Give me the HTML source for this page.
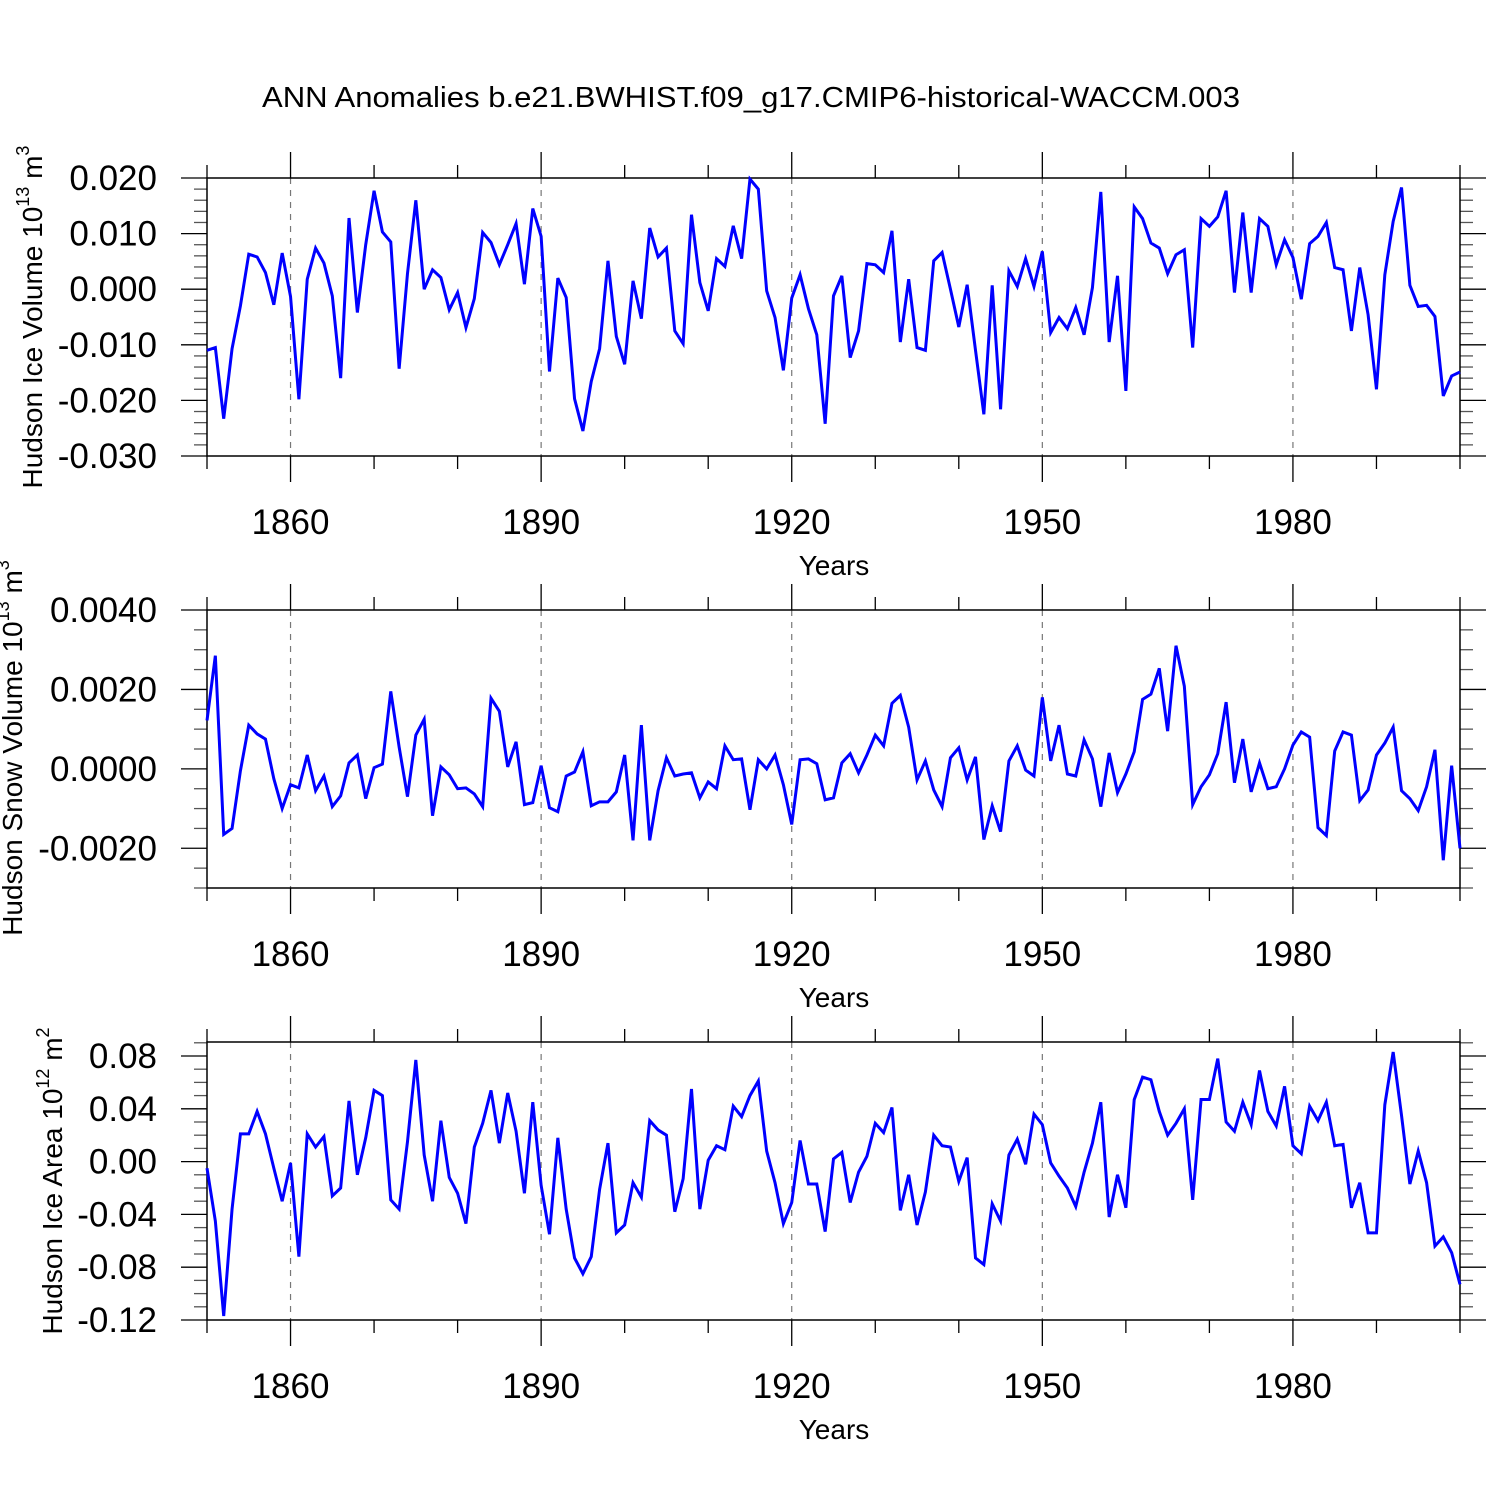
<!DOCTYPE html>
<html><head><meta charset="utf-8">
<style>
html,body{margin:0;padding:0;background:#fff;}
svg{display:block;font-family:"Liberation Sans",sans-serif;}
</style></head>
<body>
<svg id="chart" width="1500" height="1500" viewBox="0 0 1500 1500" xmlns="http://www.w3.org/2000/svg">
<rect width="1500" height="1500" fill="#fff"/>
<text x="751" y="107" font-size="29" text-anchor="middle" textLength="978" lengthAdjust="spacingAndGlyphs">ANN Anomalies b.e21.BWHIST.f09_g17.CMIP6-historical-WACCM.003</text>
</svg>
<script>
const years = [];
for (let y = 1850; y <= 2000; y++) years.push(y);
const xTickLabels = ["1860","1890","1920","1950","1980"];
const xTickYears = [1860,1890,1920,1950,1980];

const iceVolume = [-0.011,-0.0105,-0.0233,-0.0107,-0.003,0.0063,0.0058,0.003,-0.0028,0.0065,
-0.0013,-0.0198,0.0018,0.0074,0.0047,-0.0012,-0.016,0.0128,-0.0042,0.008,
0.0177,0.0103,0.0085,-0.0143,0.0028,0.016,0.0,0.0035,0.0021,-0.0037,
-0.0006,-0.0069,-0.0017,0.0102,0.0084,0.0044,0.008,0.0118,0.0009,0.0145,
0.0095,-0.0148,0.002,-0.0015,-0.0197,-0.0255,-0.0166,-0.0107,0.0051,-0.0085,
-0.0135,0.0015,-0.0053,0.011,0.0058,0.0074,-0.0075,-0.0098,0.0134,0.0012,
-0.0039,0.0055,0.0041,0.0114,0.0055,0.0198,0.018,-0.0003,-0.0051,-0.0146,
-0.0016,0.0026,-0.0035,-0.0082,-0.0242,-0.0012,0.0024,-0.0123,-0.0075,0.0046,
0.0044,0.003,0.0105,-0.0095,0.0018,-0.0105,-0.011,0.0051,0.0066,0.0,
-0.0068,0.0008,-0.011,-0.0225,0.0007,-0.0216,0.0033,0.0005,0.0055,0.0005,
0.0068,-0.0078,-0.0051,-0.0071,-0.0033,-0.0082,0.0003,0.0175,-0.0095,0.0024,
-0.0183,0.0148,0.0127,0.0083,0.0074,0.0028,0.0062,0.0071,-0.0105,0.0127,
0.0113,0.013,0.0177,-0.0006,0.0138,-0.0006,0.0127,0.0113,0.0044,0.0089,
0.0057,-0.0018,0.0082,0.0095,0.012,0.0039,0.0035,-0.0075,0.0039,-0.0046,
-0.018,0.0026,0.0122,0.0183,0.0007,-0.0031,-0.0029,-0.0049,-0.0192,-0.0156,-0.0149];

const snowVolume = [0.00122,0.00285,-0.00165,-0.0015,-0.00005,0.0011,0.00088,0.00075,-0.00025,-0.001,
-0.0004,-0.00048,0.00035,-0.00055,-0.00018,-0.00095,-0.00068,0.00015,0.00035,-0.00075,
0.00003,0.00012,0.00195,0.00055,-0.0007,0.00085,0.00125,-0.00118,0.00005,-0.00015,
-0.0005,-0.00048,-0.00063,-0.00095,0.00178,0.00145,0.00005,0.00068,-0.0009,-0.00085,
0.00008,-0.00098,-0.00108,-0.00018,-0.00008,0.00043,-0.00093,-0.00083,-0.00083,-0.00058,
0.00035,-0.0018,0.0011,-0.0018,-0.00055,0.00028,-0.00018,-0.00013,-0.0001,-0.00073,
-0.00033,-0.0005,0.00058,0.00023,0.00025,-0.00103,0.00023,0.0,0.00035,-0.0004,
-0.0014,0.00023,0.00025,0.00013,-0.00078,-0.00073,0.00015,0.00038,-0.0001,0.00035,
0.00085,0.00058,0.00165,0.00185,0.00105,-0.00028,0.0002,-0.00053,-0.00095,0.00028,
0.00053,-0.00028,0.0003,-0.00178,-0.00093,-0.00158,0.0002,0.00058,-0.00003,-0.00018,
0.0018,0.0002,0.0011,-0.00013,-0.00018,0.00073,0.00025,-0.00095,0.0004,-0.0006,
-0.00013,0.00043,0.00175,0.00188,0.00253,0.00095,0.0031,0.00208,-0.0009,-0.00045,
-0.00015,0.00038,0.00168,-0.00035,0.00075,-0.00058,0.00015,-0.0005,-0.00045,0.0,
0.0006,0.00093,0.0008,-0.00148,-0.00168,0.00045,0.00093,0.00085,-0.0008,-0.00053,
0.00035,0.00065,0.00105,-0.00055,-0.00075,-0.00105,-0.00045,0.00048,-0.0023,0.00008,-0.002];

const iceArea = [-0.005,-0.045,-0.117,-0.036,0.021,0.021,0.038,0.021,-0.005,-0.030,
-0.001,-0.072,0.021,0.011,0.019,-0.026,-0.020,0.046,-0.010,0.018,
0.054,0.050,-0.029,-0.036,0.015,0.077,0.005,-0.030,0.031,-0.012,
-0.024,-0.047,0.011,0.029,0.054,0.014,0.052,0.023,-0.024,0.045,
-0.018,-0.055,0.018,-0.036,-0.073,-0.085,-0.072,-0.021,0.014,-0.054,
-0.048,-0.016,-0.027,0.031,0.024,0.020,-0.038,-0.013,0.055,-0.036,
0.001,0.012,0.009,0.042,0.034,0.050,0.061,0.008,-0.016,-0.047,
-0.031,0.016,-0.017,-0.017,-0.053,0.002,0.007,-0.031,-0.008,0.004,
0.029,0.022,0.041,-0.037,-0.010,-0.048,-0.023,0.020,0.012,0.011,
-0.015,0.003,-0.073,-0.078,-0.032,-0.045,0.005,0.017,-0.002,0.036,
0.028,-0.001,-0.011,-0.020,-0.034,-0.008,0.014,0.045,-0.042,-0.010,
-0.035,0.047,0.064,0.062,0.038,0.020,0.029,0.040,-0.029,0.047,
0.047,0.078,0.030,0.023,0.045,0.028,0.069,0.038,0.027,0.057,
0.012,0.006,0.042,0.031,0.045,0.012,0.013,-0.035,-0.016,-0.054,
-0.054,0.043,0.083,0.035,-0.017,0.008,-0.016,-0.064,-0.057,-0.069,-0.093];

const p1Ticks = ["0.020","0.010","0.000","-0.010","-0.020","-0.030"];
const p2Ticks = ["0.0040","0.0020","0.0000","-0.0020"];
const p3Ticks = ["0.08","0.04","0.00","-0.04","-0.08","-0.12"];

const NS = "http://www.w3.org/2000/svg";
const svg = document.getElementById("chart");
const X0 = 207, X1 = 1460, YR0 = 1850, YR1 = 2000;
function xScale(yr){ return X0 + (yr - YR0) * (X1 - X0) / (YR1 - YR0); }
function mk(tag, attrs, parent){
  const e = document.createElementNS(NS, tag);
  for (const k in attrs) e.setAttribute(k, attrs[k]);
  (parent || svg).appendChild(e);
  return e;
}

function panel(cfg){
  const g = mk("g", {});
  
  
  const yScale = v => cfg.top + (cfg.ymax - v) * (cfg.bottom - cfg.top) / (cfg.ymax - cfg.ymin);
  // dashed gridlines
  xTickYears.forEach(yr => {
    const l = mk("line", {x1:xScale(yr), x2:xScale(yr), y1:cfg.top, y2:cfg.bottom, stroke:"#777", "stroke-width":1.2, "stroke-dasharray":"6,6"}, g);
    
    
  });
  // x ticks top/bottom
  for (let yr = 1850; yr <= 2000; yr += 10) {
    const major = xTickYears.includes(yr);
    const len = major ? 26 : 13;
    const x = xScale(yr);
    const t1 = mk("line", {x1:x, x2:x, y1:cfg.top, y2:cfg.top - len, stroke:"#000", "stroke-width":1.3}, g);
    
    
    const t2 = mk("line", {x1:x, x2:x, y1:cfg.bottom, y2:cfg.bottom + len, stroke:"#000", "stroke-width":1.3}, g);
    
    
  }
  // y minor ticks
  const nMin = Math.round((cfg.ymax - cfg.ymin) / cfg.minor);
  const start = Math.ceil(cfg.ymin / cfg.minor - 1e-6);
  for (let i = start; i * cfg.minor <= cfg.ymax + 1e-9; i++) {
    const v = i * cfg.minor;
    const y = yScale(v);
    const isMajor = Math.abs(v / cfg.major - Math.round(v / cfg.major)) < 1e-6;
    const len = isMajor ? 26 : 13;
    const a = mk("line", {x1:X0, x2:X0 - len, y1:y, y2:y, stroke:isMajor?"#000":"#555", "stroke-width":1.3}, g);
    
    
    const b = mk("line", {x1:X1, x2:X1 + len, y1:y, y2:y, stroke:isMajor?"#000":"#555", "stroke-width":1.3}, g);
    
    
  }
  // y tick labels
  cfg.ticks.forEach(lbl => {
    const v = parseFloat(lbl);
    const t = mk("text", {x:157, y:yScale(v) + 12, "font-size":35, "text-anchor":"end"}, g);
    t.textContent = lbl;
    
    
  });
  // x tick labels
  xTickLabels.forEach((lbl, i) => {
    const t = mk("text", {x:xScale(xTickYears[i]), y:cfg.bottom + 78, "font-size":35, "text-anchor":"middle"}, g);
    t.textContent = lbl;
    
    
  });
  const xt = mk("text", {x:834, y:cfg.bottom + 119, "font-size":28, "text-anchor":"middle"}, g);
  xt.textContent = "Years";
  
  
  // y title
  const yt = mk("text", {transform:`translate(${cfg.titleX},${cfg.titleY}) rotate(-90)`, "font-size":28, "text-anchor":"middle"}, g);
  
  
  const s1 = mk("tspan", {}, yt); s1.textContent = cfg.title + " 10";
  const s2 = mk("tspan", {"font-size":18, dy:-13}, yt); s2.textContent = cfg.exp;
  const s3 = mk("tspan", {dy:13}, yt); s3.textContent = " m";
  const s4 = mk("tspan", {"font-size":18, dy:-13}, yt); s4.textContent = cfg.unitExp;
  // frame
  const fr = mk("rect", {x:X0, y:cfg.top, width:X1 - X0, height:cfg.bottom - cfg.top, fill:"none", stroke:"#000", "stroke-width":1.5}, g);
  
  
  // series
  const pts = cfg.data.map((v, i) => xScale(years[i]).toFixed(2) + "," + yScale(v).toFixed(2)).join(" ");
  const pl = mk("polyline", {points:pts, fill:"none", stroke:"#0000ff", "stroke-width":3, "stroke-linejoin":"miter"}, g);
  
  
}

panel({name:"ice-volume-panel", top:178, bottom:456, ymax:0.02, ymin:-0.03, major:0.01, minor:0.002,
  ticks:p1Ticks, data:iceVolume, title:"Hudson Ice Volume", exp:"13", unitExp:"3", titleX:42, titleY:317});
panel({name:"snow-volume-panel", top:610, bottom:888, ymax:0.004, ymin:-0.003, major:0.002, minor:0.0005,
  ticks:p2Ticks, data:snowVolume, title:"Hudson Snow Volume", exp:"13", unitExp:"3", titleX:22, titleY:748});
panel({name:"ice-area-panel", top:1042, bottom:1320, ymax:0.0906, ymin:-0.12, major:0.04, minor:0.01,
  ticks:p3Ticks, data:iceArea, title:"Hudson Ice Area", exp:"12", unitExp:"2", titleX:62, titleY:1181});
</script>
</body></html>
